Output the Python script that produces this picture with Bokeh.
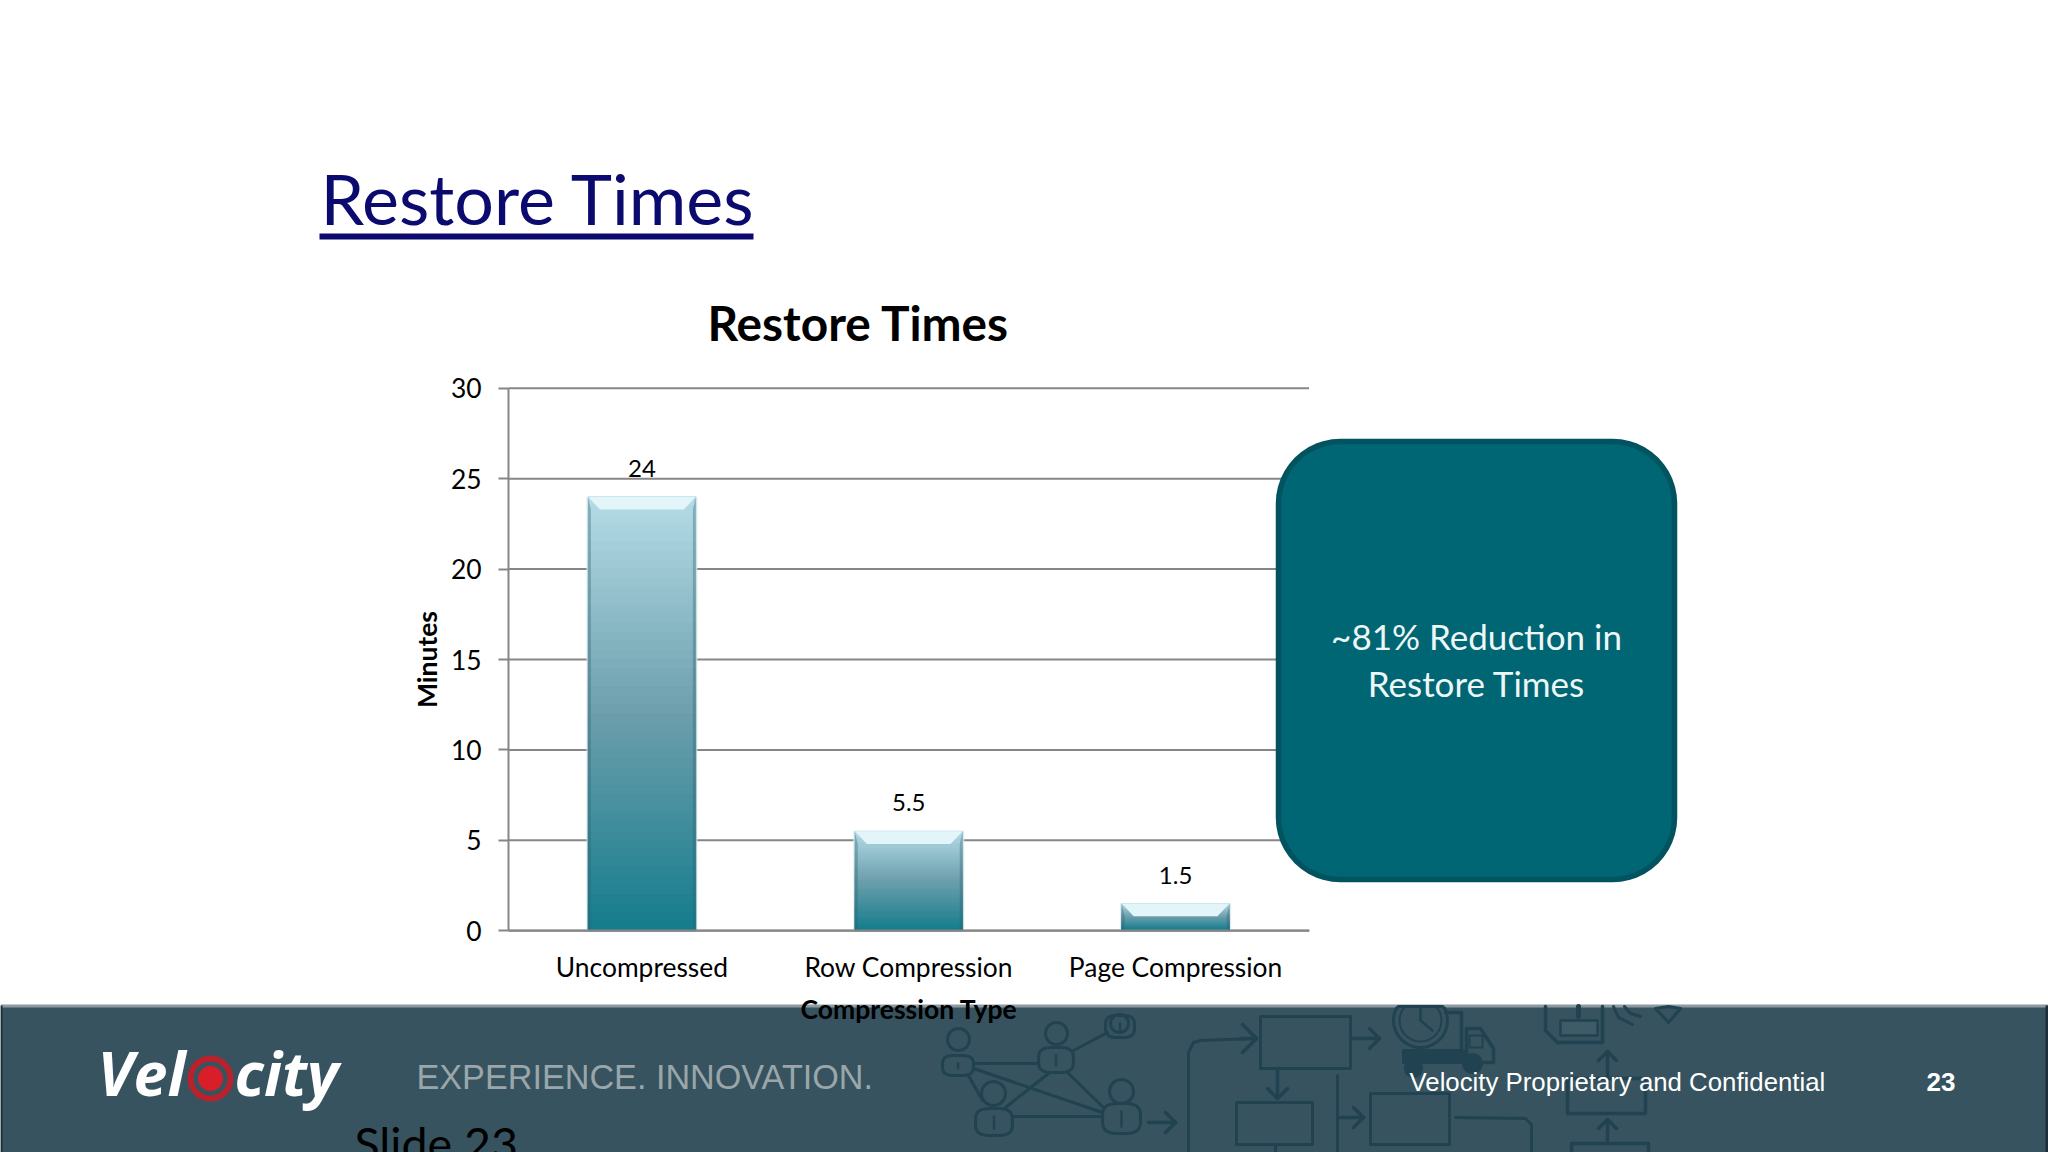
import numpy as np
from bokeh.core.properties import value
from bokeh.embed import file_html
from bokeh.resources import INLINE
from bokeh.models import ColumnDataSource, FixedTicker, Label, LabelSet, LinearAxis, Range1d
from bokeh.plotting import figure

# ---- chart data -------------------------------------------------------
categories = ["Uncompressed", "Row Compression", "Page Compression"]
minutes = [24, 5.5, 1.5]
value_labels = ["24", "5.5", "1.5"]
y_ticks = [0, 5, 10, 15, 20, 25, 30]
heading = "Restore Times"
chart_title = "Restore Times"
x_title = "Compression Type"
y_title = "Minutes"
callout_lines = ["~81% Reduction in", "Restore Times"]

W, H = 2048, 1152
BAR_W = 0.404
GRAY = "#868686"
FONT = "Lato"
FOOT = "#36535f"
ICON = "#214251"

# The default ranges address the page in pixels (for slide furniture); the chart itself is
# drawn through the "cat" and "minutes" ranges and their axes.
PL, PR, P0, P30 = 508.0, 1308.5, 930.2, 387.8
ux = (PR - PL) / len(categories)
uy = (P0 - P30) / 30
p = figure(width=W, height=H, x_range=Range1d(0, W), y_range=Range1d(H, 0),
           x_axis_type=None, y_axis_type=None, output_backend="svg", toolbar_location=None,
           background_fill_color="white", border_fill_color="white", outline_line_color=None,
           min_border=0, min_border_left=0, min_border_right=0, min_border_top=0, min_border_bottom=0)
p.grid.visible = False
p.extra_x_ranges["cat"] = Range1d((0 - PL) / ux, (W - PL) / ux)
p.extra_y_ranges["minutes"] = Range1d((P0 - H) / uy, P0 / uy)

def poly(xs, ys, fill=None, line=ICON, lw=3.0, level="underlay", alpha=1.0):
    ys = [max(a, 1006.0) if level == "underlay" else a for a in ys]
    p.patch(list(xs), ys, fill_color=fill, fill_alpha=alpha if fill else 0,
            line_color=line, line_width=lw, line_alpha=1 if line else 0, level=level, line_join="round")

def path(*pts, lw=3.0, line=ICON):
    xs = [a for a, _ in pts]; ys = [max(b, 1006.0) for _, b in pts]
    p.line(xs, ys, line_color=line, line_width=lw, level="underlay", line_join="round", line_cap="round")

def rect(l, t, r, b, **k):
    poly([l, r, r, l], [t, t, b, b], **k)

def circle(x, y, r, ry=None, **k):
    a = np.linspace(0, 2 * np.pi, 41)[:-1]
    poly(x + r * np.cos(a), y + (ry or r) * np.sin(a), **k)

def text(x, y, s, size, color="black", font=FONT, style="normal", align="left", baseline="middle", level="annotation"):
    p.add_layout(Label(x=x, y=y, text=s, text_font=font, text_font_size=f"{size}px",
                       text_font_style=style, text_color=color,
                       text_align=align, text_baseline=baseline, level=level))

# ---- footer band -------------------------------------------------------
rect(0, 1004, 2048, 1160, fill=FOOT, line=None, lw=0)
p.quad(left=[0], right=[2048], top=[1004], bottom=[1007], fill_color="#8d9ba1", line_color=None, level="underlay")
p.quad(left=[0, 2045], right=[2, 2048], top=[1005, 1005], bottom=[1152, 1152], fill_color="#1d2f38", line_color=None, level="underlay")

def person(hx, hy, hr, l, t, r, b):
    circle(hx, hy, hr)
    a = np.linspace(0, 2 * np.pi, 41)[:-1]
    poly((l + r) / 2 + (r - l) / 2 * np.sign(np.cos(a)) * np.abs(np.cos(a)) ** .6,
         (t + b) / 2 + (b - t) / 2 * np.sign(np.sin(a)) * np.abs(np.sin(a)) ** .6)
    path(((l + r) / 2, t + 8), ((l + r) / 2, b - 7), lw=2.5)

person(958, 1039, 11, 942, 1055, 973, 1075)
person(1056, 1033, 11, 1038, 1047, 1073, 1072)
person(1119, 1023, 9, 1105, 1015, 1134, 1037)
person(993, 1093, 12, 975, 1108, 1012, 1135)
person(1121, 1091, 12, 1102, 1103, 1140, 1133)
for seg in [((973, 1063), (1038, 1063)), ((973, 1068), (1102, 1112)), ((968, 1075), (982, 1100)),
            ((1048, 1073), (1005, 1107)), ((1068, 1073), (1103, 1107)), ((1012, 1116), (1100, 1116)),
            ((1073, 1050), (1107, 1032))]:
    path(*seg)

def arrow(x0, y0, x1, y1, h=10):
    path((x0, y0), (x1, y1), lw=3.5)
    d = np.array([x1 - x0, y1 - y0], float); d /= np.hypot(*d)
    n = np.array([-d[1], d[0]])
    e = np.array([x1, y1], float)
    path(tuple(e - h * d + h * n), tuple(e), tuple(e - h * d - h * n), lw=3.5)

arrow(1148, 1122, 1175, 1122)
path((1188, 1152), (1188, 1052), (1193, 1042), (1200, 1040), (1255, 1038))
arrow(1240, 1038, 1256, 1038, 14)
rect(1260, 1016, 1350, 1068)
arrow(1277, 1068, 1277, 1098)
rect(1236, 1102, 1312, 1144)
path((1275, 1144), (1275, 1160))
path((1337, 1075), (1337, 1160))
arrow(1350, 1038, 1379, 1038)
arrow(1337, 1117, 1363, 1117)
rect(1370, 1093, 1449, 1144)
path((1455, 1117), (1525, 1118), (1531, 1124), (1531, 1160))
# clock and truck
circle(1420, 1020, 27)
circle(1420, 1020, 21, lw=2)
path((1420, 1006), (1420, 1020), (1432, 1030), lw=2.5)
path((1445, 1012), (1461, 1012), (1461, 1052), lw=3.5)
rect(1403, 1050, 1463, 1062, fill=ICON, line=ICON)
path((1466, 1062), (1466, 1028), (1480, 1028), (1493, 1048), (1493, 1062), (1466, 1062), lw=3.5)
rect(1469, 1035, 1482, 1047, lw=2)
circle(1413, 1068, 8, fill=ICON)
circle(1472, 1063, 9, fill=ICON)
# parcel, signal, tag
path((1545, 1006), (1545, 1030), (1557, 1042), (1602, 1042), (1602, 1006), lw=3.5)
rect(1560, 1020, 1597, 1035, fill="#3e5c68", lw=2.5)
path((1578, 1006), (1578, 1016), lw=5)
path((1613, 1006), (1618, 1017), (1632, 1024))
path((1624, 1006), (1630, 1013), (1640, 1016))
poly([1655, 1668, 1680, 1668], [1008, 1022, 1008, 1002], lw=3)
# right-hand flow
arrow(1607, 1078, 1607, 1051, 9)
rect(1567, 1078, 1645, 1113, lw=3.5)
arrow(1607, 1142, 1607, 1119, 9)
rect(1571, 1143, 1648, 1160, lw=3.5)

# logo
text(97, 1072, "Vel", 61, color="white", font="Open Sans", style="bold italic")
text(234, 1072, "city", 61, color="white", font="Open Sans", style="bold italic")
RED = "#d81e28"
circle(210, 1078, 12, fill=RED, line=RED, lw=1, level="annotation")
circle(210, 1078, 20, fill=None, line="#b8222c", lw=6, level="annotation")

text(416, 1076, "EXPERIENCE. INNOVATION.", 34.2, color="#9aa6a9", font="Liberation Sans")
text(1409, 1081, "Velocity Proprietary and Confidential", 25.8, color="white", font="Liberation Sans")
text(1926, 1081, "23", 26, color="white", font="Liberation Sans", style="bold")
text(354, 1142, "Slide 23", 46.5, color="black")

# ---- grid, bars ----------------------------------------------------------
p.segment(x0=[0] * len(y_ticks), x1=[len(categories)] * len(y_ticks), y0=y_ticks, y1=y_ticks,
          x_range_name="cat", y_range_name="minutes", line_color=GRAY, line_width=2, level="underlay")

stops = np.array([[0xb4, 0xdc, 0xe7], [0x6d, 0x9f, 0xad], [0x14, 0x7c, 0x8c]], float)
def shade(f):
    c = [np.interp(f, [0, .5, 1], stops[:, i]) for i in range(3)]
    return "#%02x%02x%02x" % tuple(int(round(v)) for v in c)

centers = [i + .5 for i in range(len(categories))]
N = 48
xs, tops, bots, cols = [], [], [], []
for c, v in zip(centers, minutes):
    for i in range(N):
        xs.append(c); tops.append(v * (1 - i / N)); bots.append(v * (1 - (i + 1) / N)); cols.append(shade((i + .5) / N))
cr = dict(x_range_name="cat", y_range_name="minutes")
p.vbar(x=centers, top=minutes, bottom=0, width=BAR_W + .012, fill_color="#dfe7ea", fill_alpha=.8, line_color=None, **cr)
p.vbar(x="x", top="t", bottom="b", width=BAR_W, color="c",
       source=ColumnDataSource(dict(x=xs, t=tops, b=bots, c=cols)), **cr)

half = BAR_W / 2
bevel_h, inset, side = 0.70, 0.045, 0.011
px, py, lx, ly, rx, ry = [], [], [], [], [], []
for c, v in zip(centers, minutes):
    px.append([c - half, c + half, c + half - inset, c - half + inset])
    py.append([v, v, v - bevel_h, v - bevel_h])
    lx.append([c - half, c - half + side, c - half + side, c - half])
    ly.append([v, v - bevel_h, 0, 0])
    rx.append([c + half, c + half - side, c + half - side, c + half])
    ry.append([v, v - bevel_h, 0, 0])
p.patches(px, py, fill_color="#e2f5f9", line_color=None, **cr)
p.patches(lx, ly, fill_color="#2f5f6e", fill_alpha=.35, line_color=None, **cr)
p.patches(rx, ry, fill_color="#2f5f6e", fill_alpha=.35, line_color=None, **cr)
p.add_layout(LabelSet(x="x", y="y", text="t", text_align="center", text_baseline="bottom", y_offset=20,
                      text_font=value(FONT), text_font_size="24px", text_color="black",
                      source=ColumnDataSource(dict(x=centers, y=minutes, t=value_labels)), **cr))

# ---- axes ---------------------------------------------------------------
xax = LinearAxis(x_range_name="cat", fixed_location=P0, bounds=(0, len(categories)),
                 ticker=FixedTicker(ticks=centers),
                 major_label_overrides={c: n for c, n in zip(centers, categories)},
                 axis_label=x_title)
yax = LinearAxis(y_range_name="minutes", fixed_location=PL, bounds=(0, 30),
                 ticker=FixedTicker(ticks=y_ticks), axis_label=y_title)
for ax in (xax, yax):
    ax.axis_line_color = GRAY
    ax.axis_line_width = 2
    ax.major_tick_line_color = GRAY
    ax.major_tick_line_width = 2
    ax.minor_tick_line_color = None
    ax.major_tick_in = 0
    ax.major_tick_out = 10
    ax.major_label_text_font = FONT
    ax.major_label_text_font_size = "26.4px"
    ax.major_label_text_color = "black"
    ax.axis_label_text_font = FONT
    ax.axis_label_text_font_style = "bold"
    ax.axis_label_text_font_size = "26.5px"
    ax.axis_label_text_color = "black"
xax.major_tick_line_color = None
xax.major_tick_out = 0
xax.major_label_standoff = 20
xax.axis_label_standoff = 7
yax.major_label_standoff = 17
yax.axis_label_standoff = 5
p.add_layout(xax, "below")
p.add_layout(yax, "left")

# ---- callout ------------------------------------------------------------
L, T, R, B, rad = 1278, 441, 1674, 879, 62
a = np.linspace(0, np.pi / 2, 13)
bx = np.concatenate([R - rad + rad * np.sin(a), R - rad + rad * np.cos(a), L + rad - rad * np.sin(a), L + rad - rad * np.cos(a)])
by = np.concatenate([T + rad - rad * np.cos(a), B - rad + rad * np.sin(a), B - rad + rad * np.cos(a), T + rad - rad * np.sin(a)])
poly(bx, by, fill="#006673", line="#00535f", lw=5.5, level="annotation")
text(1476, 635, callout_lines[0], 35, color="#eef7f8", align="center", level="overlay")
text(1476, 682, callout_lines[1], 35, color="#eef7f8", align="center", level="overlay")

# ---- titles -------------------------------------------------------------
text(858, 322, chart_title, 47.8, style="bold", align="center")
text(320, 197, heading, 70, color="#0b0b6f", font="Lato")
p.quad(left=[319], right=[753], top=[233], bottom=[239], fill_color="#0b0b6f", line_color=None)

open("out.html", "w").write(file_html(p, INLINE))
